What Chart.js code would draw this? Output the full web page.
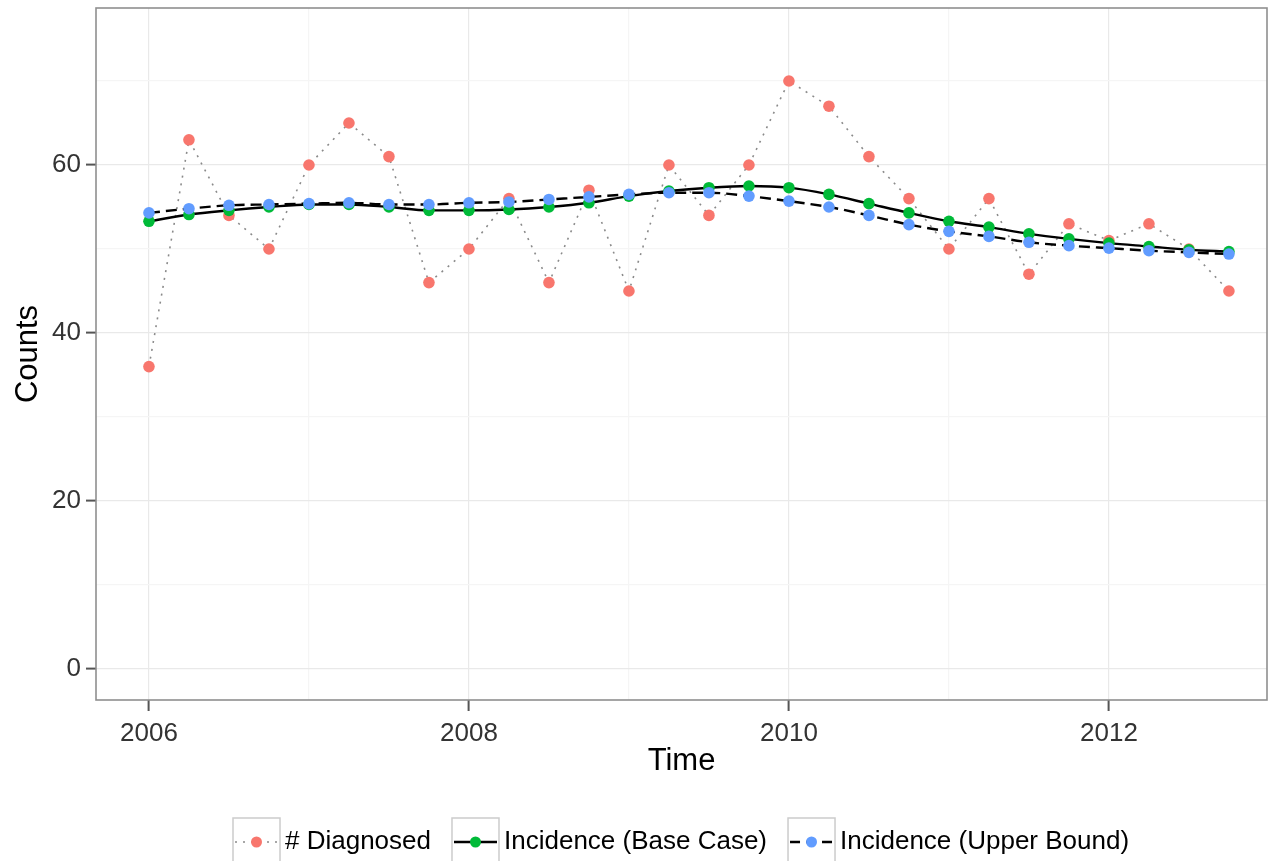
<!DOCTYPE html>
<html>
<head>
<meta charset="utf-8">
<script src="https://cdn.jsdelivr.net/npm/chart.js@4.4.1/dist/chart.umd.min.js"></script>
<style>
  html, body { margin: 0; padding: 0; background: #ffffff; }
  #wrap { width: 1268px; height: 861px; position: relative; }
</style>
</head>
<body>
<div id="wrap"><canvas id="c" width="1268" height="861"></canvas></div>
<script>
// ---- data ----
const times = [2006.00, 2006.25, 2006.50, 2006.75, 2007.00, 2007.25, 2007.50, 2007.75,
               2008.00, 2008.25, 2008.50, 2008.75, 2009.00, 2009.25, 2009.50, 2009.75,
               2010.00, 2010.25, 2010.50, 2010.75, 2011.00, 2011.25, 2011.50, 2011.75,
               2012.00, 2012.25, 2012.50, 2012.75];
const diagnosed = [36, 63, 54, 50, 60, 65, 61, 46,
                   50, 56, 46, 57, 45, 60, 54, 60,
                   70, 67, 61, 56, 50, 56, 47, 53,
                   51, 53, 50, 45];
const baseCase = [53.3, 54.1, 54.6, 55.0, 55.3, 55.3, 55.0, 54.6,
                  54.6, 54.7, 55.0, 55.5, 56.3, 56.9, 57.3, 57.5,
                  57.3, 56.5, 55.4, 54.3, 53.3, 52.6, 51.8, 51.2,
                  50.7, 50.3, 49.9, 49.7];
const upperBound = [54.3, 54.8, 55.2, 55.3, 55.4, 55.5, 55.3, 55.3,
                    55.5, 55.6, 55.9, 56.2, 56.5, 56.7, 56.7, 56.3,
                    55.7, 55.0, 54.0, 52.9, 52.1, 51.5, 50.8, 50.4,
                    50.1, 49.8, 49.6, 49.4];
const yTicks = [0, 10, 20, 30, 40, 50, 60, 70];
const xTicks = [2006, 2007, 2008, 2009, 2010, 2011, 2012];
const seriesNames = ['# Diagnosed', 'Incidence (Base Case)', 'Incidence (Upper Bound)'];

// ---- styles ----
const RED = '#F8766D', GREEN = '#00BA38', BLUE = '#619CFF';
const FONT = '"Liberation Sans", Arial, Helvetica, sans-serif';

function pts(ys) { return times.map((t, i) => ({ x: t, y: ys[i] })); }

const panelPlugin = {
  id: 'panel',
  beforeDatasetsDraw(chart) {
    const { ctx, chartArea: a } = chart;
    ctx.save();
    ctx.strokeStyle = '#8f8f8f';
    ctx.lineWidth = 1.6;
    ctx.strokeRect(a.left, a.top, a.right - a.left, a.bottom - a.top);
    ctx.restore();
  },
  afterDraw(chart) {
    const { ctx } = chart;
    ctx.save();
    ctx.font = '26px ' + FONT;
    ctx.textBaseline = 'middle';
    const keyW = 47, keyTop = 818, cy = 842;
    const kinds = [
      { color: RED, dash: [2, 6], lineColor: '#8a8a8a', lw: 1.6 },
      { color: GREEN, dash: [], lineColor: '#000', lw: 2.4 },
      { color: BLUE, dash: [10, 6], lineColor: '#000', lw: 2.4 }
    ];
    let x = 233;
    seriesNames.forEach((name, i) => {
      const k = kinds[i];
      ctx.fillStyle = '#ffffff';
      ctx.fillRect(x, keyTop, keyW, keyW);
      ctx.strokeStyle = '#cccccc';
      ctx.lineWidth = 1.5;
      ctx.strokeRect(x, keyTop, keyW, keyW);
      ctx.beginPath();
      ctx.setLineDash(k.dash);
      ctx.strokeStyle = k.lineColor;
      ctx.lineWidth = k.lw;
      ctx.moveTo(x + 2, cy);
      ctx.lineTo(x + keyW - 2, cy);
      ctx.stroke();
      ctx.setLineDash([]);
      ctx.beginPath();
      ctx.fillStyle = k.color;
      ctx.arc(x + keyW / 2, cy, 5.5, 0, Math.PI * 2);
      ctx.fill();
      ctx.fillStyle = '#000';
      ctx.textAlign = 'left';
      ctx.fillText(name, x + keyW + 5, cy);
      x += keyW + 5 + ctx.measureText(name).width + 21;
    });
    ctx.restore();
  }
};

function noPad(s) { s.paddingTop = 0; s.paddingBottom = 0; s.paddingLeft = 0; s.paddingRight = 0; }

new Chart(document.getElementById('c'), {
  type: 'line',
  data: {
    datasets: [
      { label: seriesNames[2], data: pts(upperBound), showLine: false, pointRadius: 5.8,
        pointBackgroundColor: BLUE, pointBorderWidth: 0, order: 0 },
      { label: seriesNames[1], data: pts(baseCase), showLine: false, pointRadius: 5.8,
        pointBackgroundColor: GREEN, pointBorderWidth: 0, order: 1 },
      { label: seriesNames[0], data: pts(diagnosed), showLine: false, pointRadius: 5.8,
        pointBackgroundColor: RED, pointBorderWidth: 0, order: 2 },
      { label: 'ub-line', data: pts(upperBound), pointRadius: 0, borderColor: '#000',
        borderWidth: 2.4, borderDash: [11, 6], cubicInterpolationMode: 'monotone', fill: false, order: 3 },
      { label: 'bc-line', data: pts(baseCase), pointRadius: 0, borderColor: '#000',
        borderWidth: 2.4, cubicInterpolationMode: 'monotone', fill: false, order: 4 },
      { label: 'dx-line', data: pts(diagnosed), pointRadius: 0, borderColor: '#8a8a8a',
        borderWidth: 1.6, borderDash: [2, 6], tension: 0, fill: false, order: 5 }
    ]
  },
  options: {
    responsive: false,
    animation: false,
    devicePixelRatio: 1,
    layout: { autoPadding: false, padding: { left: 0, top: 8, right: 1, bottom: 79 } },
    plugins: { legend: { display: false }, tooltip: { enabled: false } },
    scales: {
      x: {
        type: 'linear',
        min: 2005.669,
        max: 2012.988,
        afterFit(s) { s.height = 82; noPad(s); },
        afterBuildTicks(s) { s.ticks = xTicks.map(v => ({ value: v })); },
        grid: {
          color: c => (c.tick && c.tick.value % 2 === 0) ? '#e9e9e9' : '#f5f5f5',
          lineWidth: 1.2,
          tickColor: c => (c.tick && c.tick.value % 2 === 0) ? '#555555' : 'rgba(0,0,0,0)',
          tickLength: 11,
          tickWidth: 2
        },
        border: { display: false },
        ticks: {
          autoSkip: false,
          maxRotation: 0,
          padding: 7,
          color: '#333333',
          font: { family: FONT, size: 26 },
          callback: v => (v % 2 === 0 ? String(v) : '')
        },
        title: { display: true, text: 'Time', color: '#000', font: { family: FONT, size: 31 },
                 padding: { top: 0, bottom: 2 } }
      },
      y: {
        type: 'linear',
        min: -3.69,
        max: 78.69,
        afterFit(s) { s.width = 96; noPad(s); },
        afterBuildTicks(s) { s.ticks = yTicks.map(v => ({ value: v })); },
        grid: {
          color: c => (c.tick && c.tick.value % 20 === 0) ? '#e9e9e9' : '#f5f5f5',
          lineWidth: 1.2,
          tickColor: c => (c.tick && c.tick.value % 20 === 0) ? '#555555' : 'rgba(0,0,0,0)',
          tickLength: 10,
          tickWidth: 2
        },
        border: { display: false },
        ticks: {
          autoSkip: false,
          padding: 5,
          color: '#333333',
          font: { family: FONT, size: 26 },
          callback: v => (v % 20 === 0 ? String(v) : '')
        },
        title: { display: true, text: 'Counts', color: '#000', font: { family: FONT, size: 31 },
                 padding: { top: 10, bottom: 0 } }
      }
    }
  },
  plugins: [panelPlugin]
});
</script>
</body>
</html>
